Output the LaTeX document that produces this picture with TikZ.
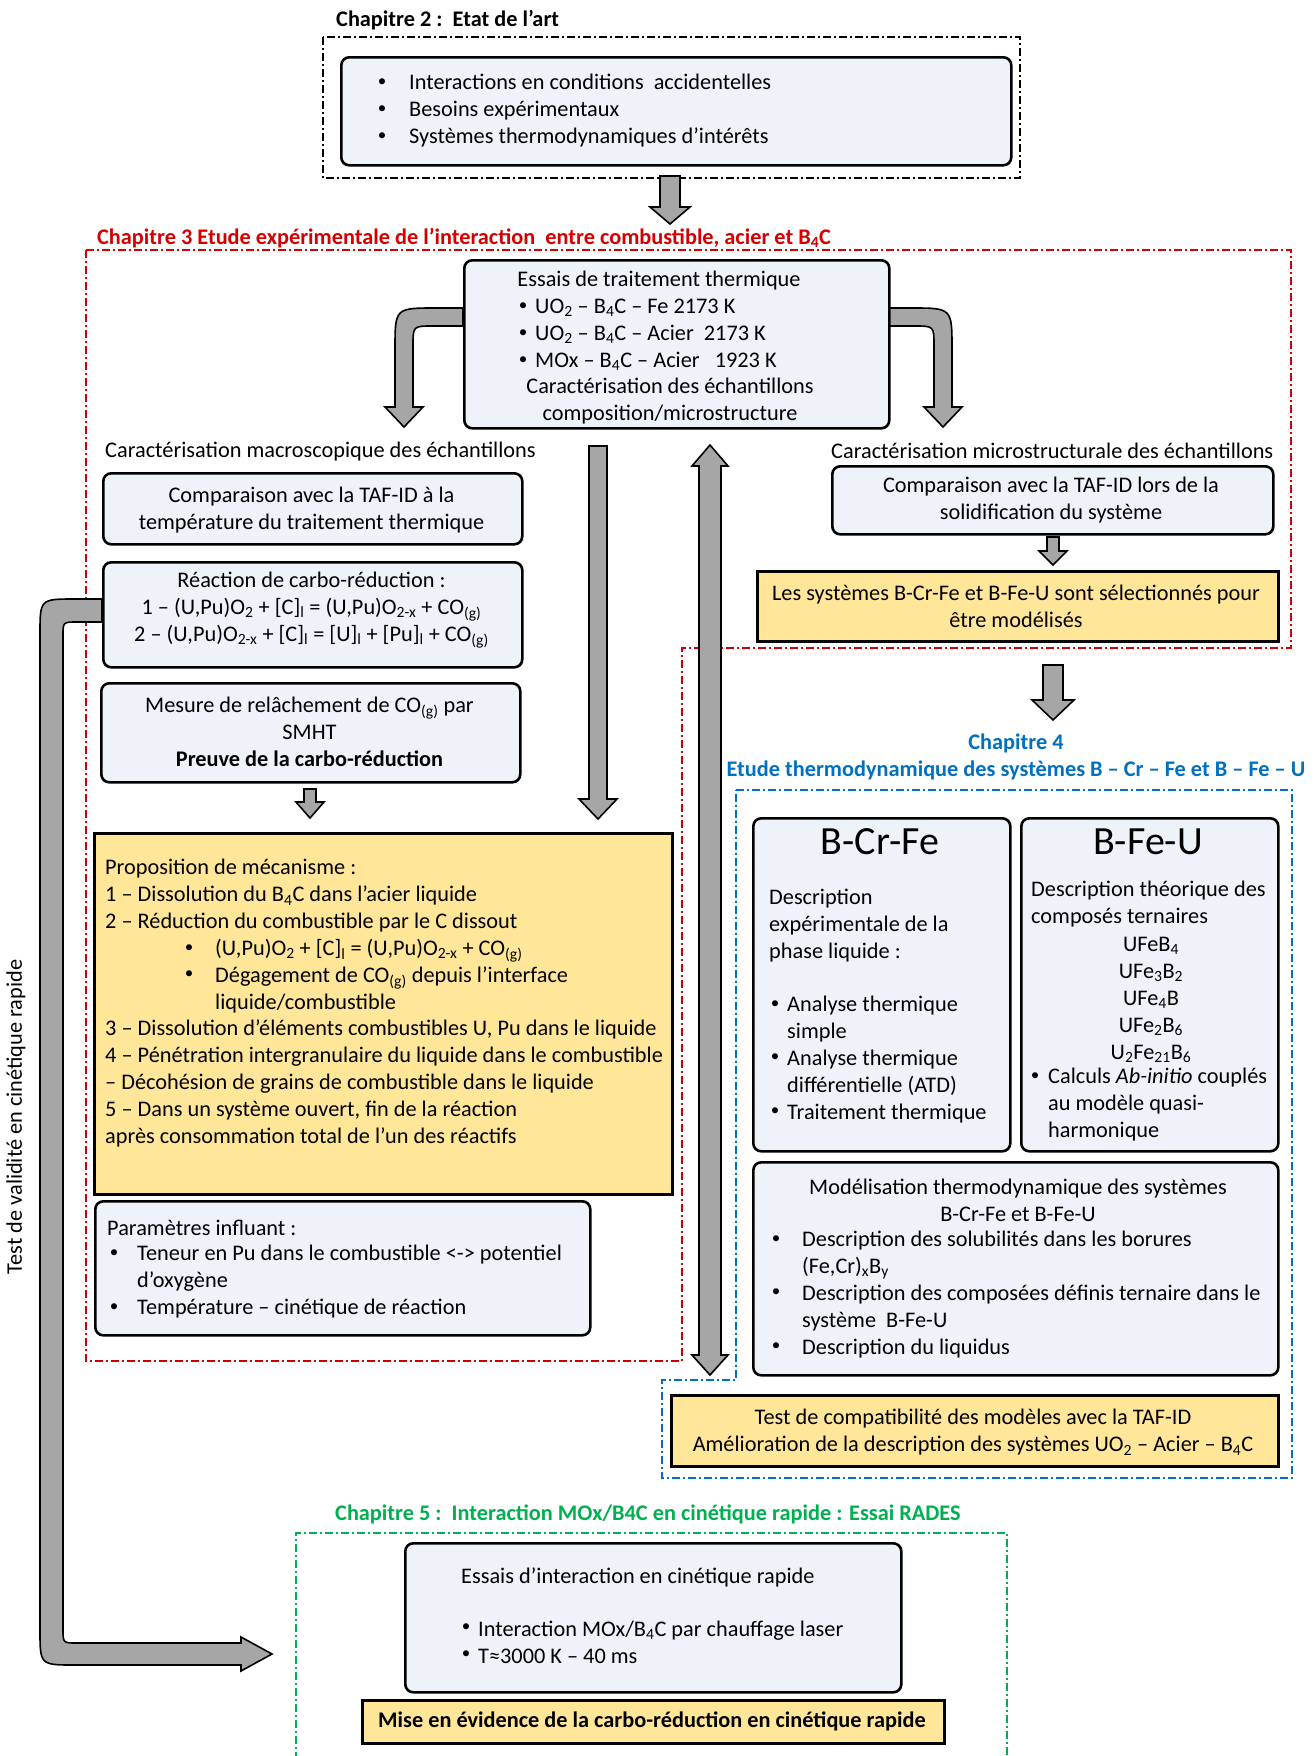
\documentclass[tikz,border=0pt]{standalone}
\usepackage{fontspec}
\setmainfont{Carlito}
\definecolor{boxfill}{HTML}{EEF3F9}
\definecolor{yel}{HTML}{FFE699}
\definecolor{arrgray}{HTML}{A6A6A6}
\definecolor{chred}{HTML}{D40000}
\definecolor{chblue}{HTML}{0070C0}
\definecolor{chgreen}{HTML}{00B050}
\newcommand{\sbs}[1]{\textsubscript{#1}}
\newcommand{\darrow}[6]{%
  \draw[barrow] ({#1-#5},#2) -- ({#1+#5},#2) -- ({#1+#5},#3) -- ({#1+#6},#3) -- (#1,#4) -- ({#1-#6},#3) -- ({#1-#5},#3) -- cycle;}
\begin{document}
\begin{tikzpicture}[x=1pt,y=-1pt,
  lbox/.style={draw=black, line width=2.6pt, fill=boxfill, rounded corners=8pt, anchor=north west, inner sep=0pt},
  ybox/.style={draw=black, line width=2.6pt, fill=yel, anchor=north west, inner sep=0pt},
  frame/.style={line width=1.6pt, dash pattern=on 8pt off 3pt on 2pt off 3pt},
  barrow/.style={draw=black, line width=1.6pt, fill=arrgray, line join=miter},
  t/.style={inner sep=0pt, yshift=-2pt, font=\fontsize{22.3}{27}\selectfont},
  tb/.style={inner sep=0pt, yshift=-1pt, font=\fontsize{22.3}{27}\selectfont\bfseries},
  bul/.style={inner sep=0pt, yshift=-1pt, font=\fontsize{17}{20}\selectfont},
  big/.style={inner sep=0pt, font=\fontsize{40}{44}\selectfont}
]
\useasboundingbox (0,0) rectangle (1316,1756);
\fill[white] (0,0) rectangle (1316,1756);

% ---------- frames ----------
\draw[frame, black] (323,37) rectangle (1020,178);
\draw[frame, chred] (86,250) -- (1291,250) -- (1291,648) -- (682,648) -- (682,1361) -- (86,1361) -- cycle;
\draw[frame, chblue] (736,790) -- (1292,790) -- (1292,1478) -- (662,1478) -- (662,1380) -- (736,1380) -- cycle;
\draw[frame, chgreen] (296,1760) -- (296,1533) -- (1007,1533) -- (1007,1760);

% ---------- titles ----------
\node[tb, anchor=west] (ch2t) at (336,19) {Chapitre 2 :\ \ Etat de l’art};
\node[tb, anchor=west, text=chred] (ch3t) at (97,237) {Chapitre 3 Etude expérimentale de l’interaction\ \ entre combustible, acier et B\sbs{4}C};
\node[tb, text=chblue] (ch4t) at (1016,742) {Chapitre 4};
\node[tb, text=chblue] (ch4s) at (1016,769) {Etude thermodynamique des systèmes B – Cr – Fe et B – Fe – U};
\node[tb, anchor=west, text=chgreen] (ch5t) at (335,1513) {Chapitre 5 :\ \ Interaction MOx/B4C en cinétique rapide\ : Essai RADES};

% ---------- arrows ----------
\darrow{670}{176}{207}{224}{10}{20}
% left curved arrow
\draw[barrow] (463,308) -- (436,308) .. controls (395,308) .. (395,349) -- (395,407) -- (385,407) -- (404,427) -- (423,407) -- (413,407) -- (413,346) .. controls (413,326) .. (433,326) -- (463,326) -- cycle;
% right curved arrow
\draw[barrow] (888,308) -- (911,308) .. controls (952,308) .. (952,349) -- (952,407) -- (962,407) -- (943,427) -- (924,407) -- (934,407) -- (934,346) .. controls (934,326) .. (914,326) -- (888,326) -- cycle;
% long down arrow
\darrow{598}{446}{799}{819}{9}{19}
% double arrow
\draw[barrow] (699,466) -- (692,466) -- (710,445) -- (728,466) -- (721,466) -- (721,1355) -- (728,1355) -- (710,1375) -- (692,1355) -- (699,1355) -- cycle;
% small arrows
\darrow{310}{789}{802}{818}{6}{14}
\darrow{1053}{537}{551}{565}{6}{14}
\darrow{1053}{665}{700}{720}{10}{21}
% big L arrow
\draw[barrow] (102,599) -- (75,599) .. controls (40,599) .. (40,634) -- (40,1630) .. controls (40,1665) .. (75,1665) -- (241,1665) -- (241,1671) -- (272,1654) -- (241,1637) -- (241,1643) -- (77,1643) .. controls (63,1643) .. (63,1629) -- (63,636) .. controls (63,622) .. (77,622) -- (102,622) -- cycle;
\node[t, rotate=90, yshift=2pt] (valid) at (18,1115) {Test de validité en cinétique rapide};

% ---------- Chapter 2 ----------
\node[lbox, minimum width=670, minimum height=108] (c2box) at (340,56) {};
\node[bul] (c2b1) at (382,82) {•};
\node[bul] (c2b2) at (382,109) {•};
\node[bul] (c2b3) at (382,136) {•};
\node[t, anchor=west, align=left] (c2txt) at (409,109) {Interactions en conditions\ \ accidentelles\\Besoins expérimentaux\\Systèmes thermodynamiques d’intérêts};

% ---------- Chapter 3 central ----------
\node[lbox, minimum width=425, minimum height=168] (cbox) at (463,259) {};
\node[t] (ctitle) at (659,279) {Essais de traitement thermique};
\node[bul] (cb1) at (523,306) {•};
\node[bul] (cb2) at (523,333) {•};
\node[bul] (cb3) at (523,360) {•};
\node[t, anchor=west, align=left] (ctxt) at (535,333) {UO\sbs{2} – B\sbs{4}C – Fe 2173 K\\UO\sbs{2} – B\sbs{4}C – Acier\ \ 2173 K\\MOx – B\sbs{4}C – Acier\ \ \ 1923 K};
\node[t, align=center] (ccar) at (670,399.5) {Caractérisation des échantillons\\composition/microstructure};

\node[t, anchor=west] (macro) at (105,450) {Caractérisation macroscopique des échantillons};
\node[t, anchor=west] (micro) at (831,449) {Caractérisation microstructurale des échantillons};

% left column
\node[lbox, minimum width=419, minimum height=71] (l1) at (102,472) {};
\node[t, align=center] (l1t) at (311.5,508.5) {Comparaison avec la TAF-ID à la\\température du traitement thermique};
\node[lbox, minimum width=419, minimum height=105] (l2) at (102,561) {};
\node[t, align=center] (l2t) at (311.5,608) {Réaction de carbo-réduction :\\1 – (U,Pu)O\sbs{2} + [C]\sbs{l} = (U,Pu)O\sbs{2-x} + CO\sbs{(g)}\\2 – (U,Pu)O\sbs{2-x} + [C]\sbs{l} = [U]\sbs{l} + [Pu]\sbs{l} + CO\sbs{(g)}};
\node[lbox, minimum width=419, minimum height=99] (l3) at (100,682) {};
\node[t, align=center] (l3t) at (309.5,730) {Mesure de relâchement de CO\sbs{(g)} par\\SMHT\\\textbf{Preuve de la carbo-réduction}};

% mechanism
\node[ybox, minimum width=578, minimum height=361] (mech) at (93,832) {};
\node[t, anchor=west, align=left] (m1) at (105,894) {Proposition de mécanisme :\\1 – Dissolution du B\sbs{4}C dans l’acier liquide\\2 – Réduction du combustible par le C dissout};
\node[bul] (mb1) at (189,948) {•};
\node[bul] (mb2) at (189,974) {•};
\node[t, anchor=west, align=left] (m2) at (215,974) {(U,Pu)O\sbs{2} + [C]\sbs{l} = (U,Pu)O\sbs{2-x} + CO\sbs{(g)}\\Dégagement de CO\sbs{(g)} depuis l’interface\\liquide/combustible};
\node[t, anchor=west, align=left] (m3) at (105,1081) {3 – Dissolution d’éléments combustibles U, Pu dans le liquide\\4 – Pénétration intergranulaire du liquide dans le combustible\\– Décohésion de grains de combustible dans le liquide\\5 – Dans un système ouvert, fin de la réaction\\après consommation total de l’un des réactifs};

% parameters
\node[lbox, minimum width=495, minimum height=134] (par) at (94,1200) {};
\node[t, anchor=west] (p1) at (107,1226) {Paramètres influant :};
\node[bul] (pb1) at (114,1253) {•};
\node[bul] (pb2) at (114,1307) {•};
\node[t, anchor=west, align=left] (p2) at (137,1280) {Teneur en Pu dans le combustible <-> potentiel\\d’oxygène\\Température – cinétique de réaction};

% right column
\node[lbox, minimum width=441, minimum height=68] (r1) at (831,465) {};
\node[t, align=center] (r1t) at (1051,498.5) {Comparaison avec la TAF-ID lors de la\\solidification du système};
\node[ybox, minimum width=521, minimum height=70] (r2) at (756,570) {};
\node[t, align=center] (r2t) at (1016,604.5) {Les systèmes B-Cr-Fe et B-Fe-U sont sélectionnés pour\\être modélisés};

% ---------- Chapter 4 ----------
\node[lbox, minimum width=257, minimum height=333] (bcf) at (752,817) {};
\node[big] (bcft) at (880,842) {B-Cr-Fe};
\node[t, anchor=west, align=left] (bcf1) at (769,924) {Description\\expérimentale de la\\phase liquide :};
\node[bul] (bcfb1) at (775,1004) {•};
\node[bul] (bcfb2) at (775,1057) {•};
\node[bul] (bcfb3) at (775,1111) {•};
\node[t, anchor=west, align=left] (bcf2) at (787,1057.5) {Analyse thermique\\simple\\Analyse thermique\\différentielle (ATD)\\Traitement thermique};

\node[lbox, minimum width=257, minimum height=333] (bfu) at (1020,817) {};
\node[big] (bfut) at (1148,842) {B-Fe-U};
\node[t, anchor=west, align=left] (bfu1) at (1031,902.5) {Description théorique des\\composés ternaires};
\node[t, align=center] (bfu2) at (1151,998) {UFeB\sbs{4}\\UFe\sbs{3}B\sbs{2}\\UFe\sbs{4}B\\UFe\sbs{2}B\sbs{6}\\U\sbs{2}Fe\sbs{21}B\sbs{6}};
\node[bul] (bfub) at (1035,1076) {•};
\node[t, anchor=west, align=left] (bfu3) at (1048,1103) {Calculs \textit{Ab-initio} couplés\\au modèle quasi-\\harmonique};

\node[lbox, minimum width=525, minimum height=213] (mod) at (752,1161) {};
\node[t, align=center] (mod1) at (1018,1198.5) {Modélisation thermodynamique des systèmes\\B-Cr-Fe et B-Fe-U};
\node[bul] (modb1) at (776,1239) {•};
\node[bul] (modb2) at (776,1292) {•};
\node[bul] (modb3) at (776,1346) {•};
\node[t, anchor=west, align=left] (mod2) at (802,1292.5) {Description des solubilités dans les borures\\(Fe,Cr)\sbs{x}B\sbs{y}\\Description des composées définis ternaire dans le\\système\ \ B-Fe-U\\Description du liquidus};

\node[ybox, minimum width=607, minimum height=71] (y4) at (670,1394) {};
\node[t, align=center] (y4t) at (973,1430.5) {Test de compatibilité des modèles avec la TAF-ID\\Amélioration de la description des systèmes UO\sbs{2} – Acier – B\sbs{4}C};

% ---------- Chapter 5 ----------
\node[lbox, minimum width=496, minimum height=149] (c5) at (404,1542) {};
\node[t, anchor=west] (c5t) at (461,1575) {Essais d’interaction en cinétique rapide};
\node[bul] (c5b1) at (466,1627) {•};
\node[bul] (c5b2) at (466,1654) {•};
\node[t, anchor=west, align=left] (c5l) at (478,1640.5) {Interaction MOx/B\sbs{4}C par chauffage laser\\T≈3000 K – 40 ms};
\node[ybox, minimum width=582, minimum height=43] (y5) at (361,1699) {};
\node[tb] (y5t) at (652,1720) {Mise en évidence de la carbo-réduction\ en cinétique rapide};
\end{tikzpicture}
\end{document}
